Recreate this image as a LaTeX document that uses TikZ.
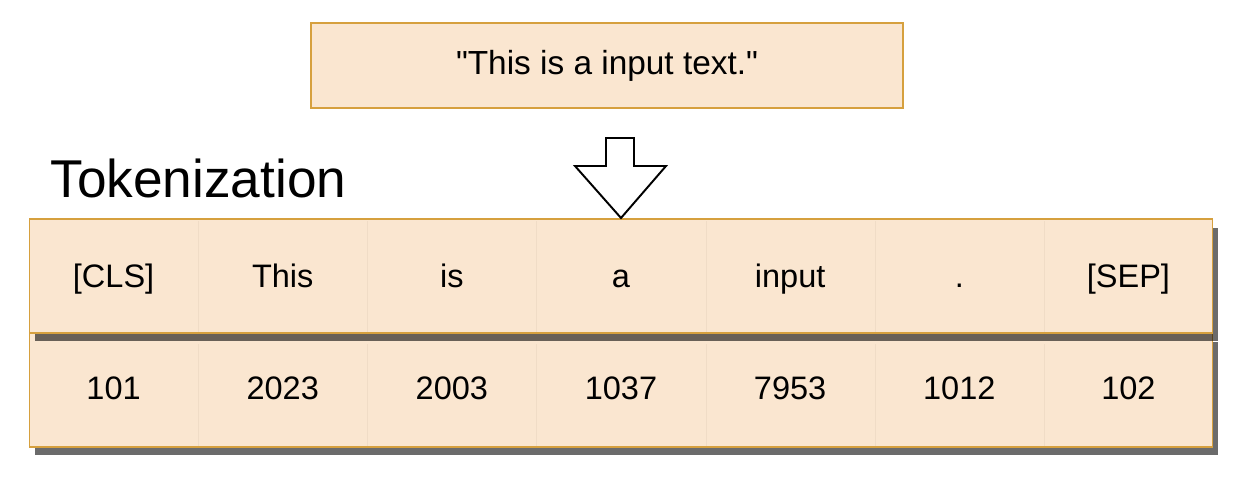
\documentclass[tikz,border=0pt]{standalone}
\usepackage{fontspec}
\setmainfont{Liberation Sans}[Ligatures=TeXOff]
\usetikzlibrary{shadows}
\definecolor{peach}{RGB}{250,230,208}
\definecolor{gold}{RGB}{214,160,62}
\definecolor{cellline}{RGB}{240,220,198}

\begin{document}
\begin{tikzpicture}
  [x=0.02cm,y=-0.02cm,
   box/.style={draw=gold,fill=peach,rectangle,inner sep=0pt},
   row/.style={box,line width=.6pt,minimum width=23.68cm,minimum height=2.28cm,
     drop shadow={shadow xshift=.11cm,shadow yshift=-.17cm,fill=black,opacity=.58}},
   cell/.style={anchor=base,inner sep=0pt,font=\fontsize{18.5}{22}\selectfont}]
  \useasboundingbox (0,0) rectangle (1252,481);

  \node[box,line width=1.5pt,minimum width=11.84cm,minimum height=1.7cm,
        font=\fontsize{19}{23}\selectfont] (input) at (607,65.5) {"This is a input text."};
  \node[anchor=base west,inner sep=0pt,font=\fontsize{30.3}{35}\selectfont] (title) at (50,197) {Tokenization};

  % rows: ids first, so the token row's shadow falls on it
  \node[row] (ids) at (621,390) {};
  \node[row] (tokens) at (621,276) {};

  \foreach \x in {198,367,536,706,875,1044}
    \draw[cellline] (\x,221) -- (\x,332) (\x,344) -- (\x,446);

  \foreach \tok [count=\i] in {{[CLS]},This,is,a,input,.,{[SEP]}}
    \node[cell] (tok\i) at ({169.14*\i-55.57},287) {\tok};
  \foreach \id [count=\i] in {101,2023,2003,1037,7953,1012,102}
    \node[cell] (id\i) at ({169.14*\i-55.57},399) {\id};

  \draw[line width=1.1pt,fill=white] (606,138) -- (634,138) -- (634,166) -- (666,166)
    -- (621,218) -- (575,166) -- (606,166) -- cycle;
\end{tikzpicture}
\end{document}
